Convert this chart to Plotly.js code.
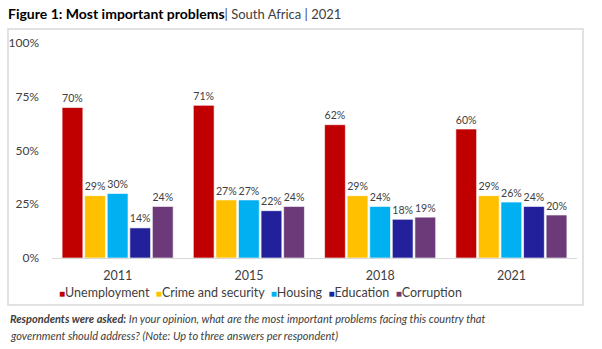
<!DOCTYPE html>
<html><head><meta charset="utf-8">
<script src="https://cdn.plot.ly/plotly-3.0.1.min.js"></script>
<style>body{margin:0;padding:0;background:#fff}#chart{width:602px;height:349px}</style>
</head><body><div id="chart"></div>
<script>
const years = ["2011", "2015", "2018", "2021"];
const seriesNames = ["Unemployment", "Crime and security", "Housing", "Education", "Corruption"];
const unemployment = [70, 71, 62, 60];
const crime = [29, 27, 29, 29];
const housing = [30, 27, 24, 26];
const education = [14, 22, 18, 24];
const corruption = [24, 24, 19, 20];
const yTicks = [0, 25, 50, 75, 100];
const yTickLabels = ["0%", "25%", "50%", "75%", "100%"];

const colors = ["#C00000", "#FFC000", "#00B0F0", "#22209A", "#6C3A78"];
const allSeries = [unemployment, crime, housing, education, corruption];
const FONT = "Lato, 'Open Sans', sans-serif";

const traces = allSeries.map((vals, i) => ({
  type: "bar",
  name: seriesNames[i],
  x: years,
  y: vals,
  text: vals.map(v => v + "%"),
  textposition: "outside",
  cliponaxis: false,
  textfont: {family: FONT, size: 13, color: "#404040"},
  marker: {color: colors[i], line: {color: "rgba(255,255,255,0.6)", width: 1}},
  hoverinfo: "skip",
  showlegend: false
}));

// plot area in pixels: x 52..577, y 43..258
const L = 52, R = 577, T = 43, B = 258;
const px = x => (x - L) / (R - L);
const py = y => (B - y) / (B - T);

const legendText = seriesNames.map((n, i) =>
  `<span style="color:${colors[i]};font-size:10px">■</span>${n}`).join("  ");

const layout = {
  width: 602, height: 349,
  margin: {l: L, r: 602 - R, t: T, b: 349 - B},
  paper_bgcolor: "#fff", plot_bgcolor: "#fff",
  barmode: "group", bargap: 0.14, bargroupgap: 0.08,
  showlegend: false,
  font: {family: FONT, color: "#404040"},
  title: {
    text: "<b>Figure 1: Most important problems</b><span style=\"color:#404040;font-size:13px\">| South Africa | 2021</span>",
    font: {family: FONT, size: 14, color: "#000"},
    x: 8 / 602, xanchor: "left", xref: "container",
    y: 1 - 14 / 349, yanchor: "middle", yref: "container"
  },
  xaxis: {
    type: "category",
    showline: true, linecolor: "#d9d9d9", linewidth: 1,
    ticks: "", ticklabelstandoff: 6,
    tickfont: {family: FONT, size: 12.5, color: "#404040"},
    showgrid: false, zeroline: false
  },
  yaxis: {
    range: [0, 100], tickvals: yTicks, ticktext: yTickLabels,
    showgrid: false, zeroline: false, showline: false, ticks: "",
    ticklabelstandoff: 12,
    tickfont: {family: FONT, size: 12, color: "#404040"}
  },
  shapes: [{
    type: "rect", xref: "paper", yref: "paper",
    x0: px(8), x1: px(583), y0: py(305), y1: py(29),
    line: {color: "#d9d9d9", width: 1.5}, fillcolor: "rgba(0,0,0,0)", layer: "below"
  }],
  annotations: [
    {
      xref: "paper", yref: "paper", x: px(57), y: py(292), xanchor: "left", yanchor: "middle",
      showarrow: false, align: "left", text: legendText,
      font: {family: FONT, size: 12.5, color: "#404040"}
    },
    {
      xref: "paper", yref: "paper", x: px(8), y: py(318), xanchor: "left", yanchor: "middle",
      showarrow: false, align: "left",
      text: "<b><i>Respondents were asked:</i></b><i> In your opinion, what are the most important problems facing this country that</i>",
      font: {family: FONT, size: 11, color: "#404040"}
    },
    {
      xref: "paper", yref: "paper", x: px(8), y: py(335), xanchor: "left", yanchor: "middle",
      showarrow: false, align: "left",
      text: "<i>government should address? (Note: Up to three answers per respondent)</i>",
      font: {family: FONT, size: 11, color: "#404040"}
    }
  ]
};

Plotly.newPlot("chart", traces, layout, {displayModeBar: false, staticPlot: true});
</script></body></html>
